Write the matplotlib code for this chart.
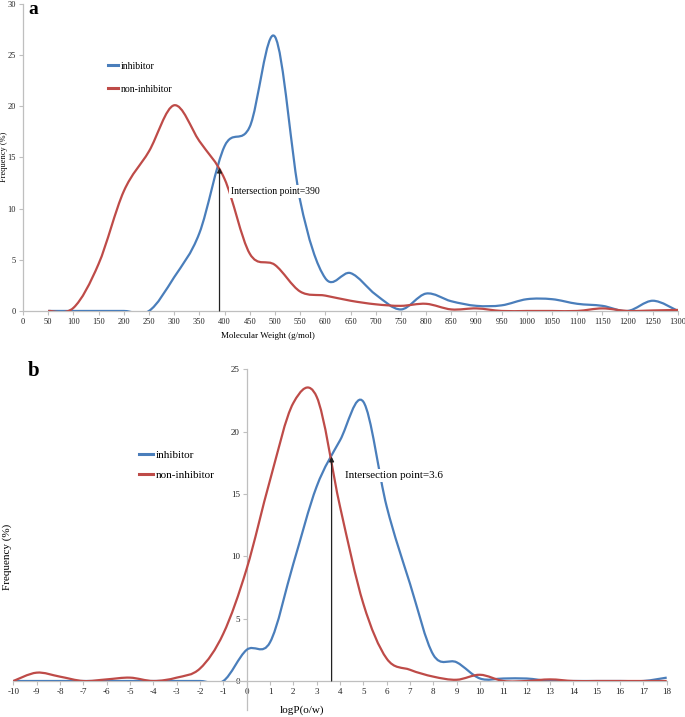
import matplotlib
matplotlib.use('Agg')
import matplotlib.pyplot as plt
import numpy as np
from matplotlib.path import Path
from matplotlib.patches import PathPatch

# Panel a: molecular weight distribution
mw = list(range(50, 1301, 50))
mw_inhibitor = [0, 0, 0, 0, 0, 3.3, 7.6, 16.1, 18.0, 26.8, 10.8, 3.2, 3.7,
                1.6, 0.15, 1.7, 0.95, 0.5, 0.55, 1.15, 1.15, 0.7, 0.5, 0, 1.0, 0]
mw_non_inhibitor = [0, 0.3, 4.6, 11.7, 15.6, 20.1, 16.6, 12.9, 5.6, 4.5, 1.9, 1.5, 1.0,
                    0.65, 0.5, 0.7, 0.15, 0.25, 0, 0, 0, 0, 0.25, 0, 0.05, 0.1]
mw_cross = (390, 14.0)

# Panel b: logP distribution
logp = list(range(-10, 19))
lp_inhibitor = [0, 0, 0, 0, 0, 0, 0, 0, 0, 0, 2.5, 3.1, 9.4, 15.6, 19.3, 22.4, 14.0,
                7.8, 2.1, 1.5, 0.2, 0.2, 0.2, 0, 0, 0, 0, 0, 0.27]
lp_non_inhibitor = [0, 0.67, 0.35, 0, 0.13, 0.27, 0, 0.27, 1.0, 3.8, 9.0, 16.1, 22.3,
                    22.8, 14.0, 6.2, 1.8, 0.9, 0.35, 0.1, 0.5, 0, 0, 0.13, 0, 0, 0, 0, 0]
lp_cross = (3.64, 18.0)

blue = '#4A7EBB'
red = '#BE4B48'
grey = '#BFBFBF'
plt.rcParams['font.family'] = 'Liberation Serif'
plt.rcParams['axes.unicode_minus'] = False


def smooth_line(ax, x, y, color, label):
    # Excel style smoothed line: cubic Bezier segments through each point
    p = np.column_stack([x, y]).astype(float)
    ext = np.vstack([p[0], p, p[-1]])
    verts = [p[0]]
    codes = [Path.MOVETO]
    for i in range(len(p) - 1):
        p0, p1, p2, p3 = ext[i], ext[i + 1], ext[i + 2], ext[i + 3]
        verts += [p1 + (p2 - p0) / 6, p2 - (p3 - p1) / 6, p2]
        codes += [Path.CURVE4] * 3
    ax.add_patch(PathPatch(Path(verts, codes), fill=False, edgecolor=color,
                           lw=1.6, zorder=3))
    ax.plot([], [], color=color, lw=2.2, label=label)


def style_axes(ax, size):
    for s in ['top', 'right']:
        ax.spines[s].set_visible(False)
    for s in ['left', 'bottom']:
        ax.spines[s].set_color(grey)
        ax.spines[s].set_linewidth(0.9)
    ax.tick_params(direction='out', length=3, width=0.8, color=grey,
                   labelsize=size, pad=2, labelcolor='#222222')


fig = plt.figure(figsize=(6.85, 7.17), dpi=100)

# ---- panel a ----
ax1 = fig.add_axes([0.0336, 0.5663, 0.9562, 0.4282])
smooth_line(ax1, mw, mw_inhibitor, blue, 'inhibitor')
smooth_line(ax1, mw, mw_non_inhibitor, red, 'non-inhibitor')
ax1.set_xlim(0, 1300)
ax1.set_ylim(0, 30)
ax1.set_xticks(np.arange(0, 1301, 50))
ax1.set_yticks(np.arange(0, 31, 5))
style_axes(ax1, 6)
ax1.annotate('', xy=mw_cross, xytext=(mw_cross[0], 0),
             arrowprops=dict(arrowstyle='-|>', color='#222222', lw=0.9,
                             mutation_scale=7, shrinkA=0, shrinkB=0), zorder=4)
ax1.text(413, 11.7, 'Intersection point=390', fontsize=7, va='center', ha='left',
         bbox=dict(facecolor='white', edgecolor='none', pad=1.5), zorder=5)
ax1.legend(loc='upper left', bbox_to_anchor=(0.129, 0.812), frameon=False,
           fontsize=7, handlelength=1.1, handletextpad=0.25, labelspacing=1.45,
           borderpad=0, borderaxespad=0)
fig.text(268 / 685, 1 - 336 / 717, 'Molecular Weight (g/mol)', fontsize=6.5,
         ha='center', va='center')
fig.text(4 / 685, 1 - 157 / 717, 'Frequency (%)', fontsize=6, rotation=90,
         ha='center', va='center')
fig.text(33 / 685, 1 - 9 / 717, 'a', fontsize=14, fontweight='bold',
         ha='center', va='center')

# ---- panel b ----
ax2 = fig.add_axes([0.0194, 0.0502, 0.9539, 0.4347])
smooth_line(ax2, logp, lp_inhibitor, blue, 'inhibitor')
smooth_line(ax2, logp, lp_non_inhibitor, red, 'non-inhibitor')
ax2.set_xlim(-10, 18)
ax2.set_ylim(0, 25)
ax2.set_xticks(logp)
ax2.set_yticks(np.arange(0, 26, 5))
style_axes(ax2, 6.5)
ax2.spines['left'].set_position(('data', 0))
ax2.spines['left'].set_bounds(-2.3, 25)
ax2.annotate('', xy=lp_cross, xytext=(lp_cross[0], 0),
             arrowprops=dict(arrowstyle='-|>', color='#222222', lw=0.9,
                             mutation_scale=7, shrinkA=0, shrinkB=0), zorder=4)
ax2.text(4.2, 16.5, 'Intersection point=3.6', fontsize=8, va='center', ha='left',
         bbox=dict(facecolor='white', edgecolor='none', pad=1.5), zorder=5)
ax2.legend(loc='upper left', bbox_to_anchor=(0.193, 0.742), frameon=False,
           fontsize=8, handlelength=1.2, handletextpad=0.25, labelspacing=0.95,
           borderpad=0, borderaxespad=0)
fig.text(302 / 685, 1 - 710 / 717, 'logP(o/w)', fontsize=8,
         ha='center', va='center')
fig.text(7 / 685, 1 - 557 / 717, 'Frequency (%)', fontsize=8, rotation=90,
         ha='center', va='center')
fig.text(34 / 685, 1 - 371 / 717, 'b', fontsize=15, fontweight='bold',
         ha='center', va='center')

fig.savefig('out.png', dpi=100)
